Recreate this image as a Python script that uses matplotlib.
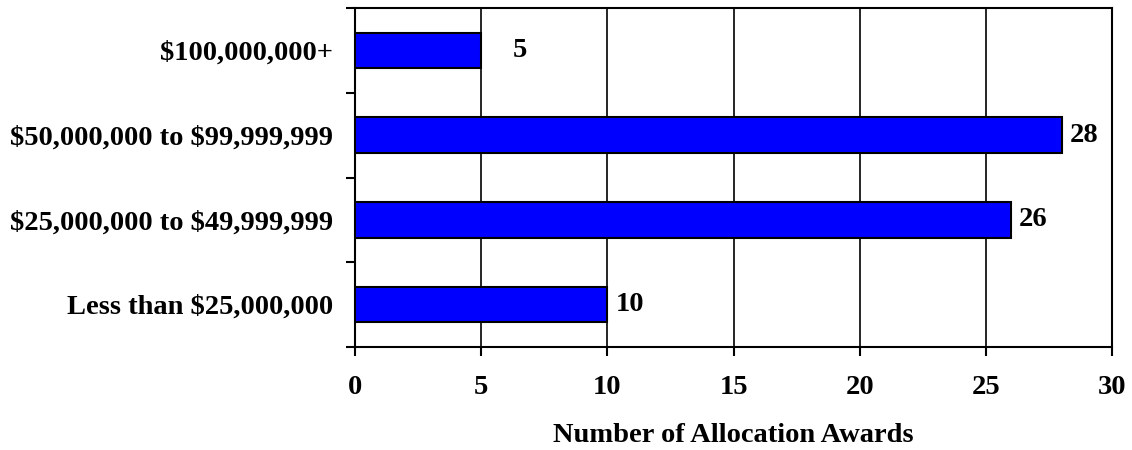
import matplotlib
matplotlib.use("Agg")
import matplotlib.pyplot as plt
from matplotlib.ticker import FixedLocator

categories = ["Less than $25,000,000", "$25,000,000 to $49,999,999",
              "$50,000,000 to $99,999,999", "$100,000,000+"]
values = [10, 26, 28, 5]
x_ticks = [0, 5, 10, 15, 20, 25, 30]
x_label = "Number of Allocation Awards"
label_gap_px = [8, 8, 8, 32]

plt.rcParams['text.parse_math'] = False
plt.rcParams['font.family'] = ['Liberation Serif', 'DejaVu Serif']
plt.rcParams['font.weight'] = 'bold'

fig = plt.figure(figsize=(11.32, 4.5), dpi=100)
ax = fig.add_axes([355/1132, 1 - 347/450, (1112-355)/1132, (347-8)/450])

ypos = list(range(len(categories)))
bars = ax.barh(ypos, values, height=0.42, color='#0000FF', edgecolor='black',
               linewidth=1.5, zorder=3)

ax.set_xlim(0, 30)
ax.set_ylim(-0.5, len(categories) - 0.5)
ax.set_xticks(x_ticks)
ax.set_xticklabels([str(t) for t in x_ticks], fontsize=20.5, fontweight='bold')
ax.set_yticks(ypos)
ax.set_yticklabels(categories, fontsize=20.5, fontweight='bold')
ax.yaxis.set_minor_locator(FixedLocator([i - 0.5 for i in range(len(categories) + 1)]))
ax.tick_params(axis='y', which='major', length=0, pad=15.5)
ax.tick_params(axis='y', which='minor', length=6.5, width=1.5, color='black')
ax.tick_params(axis='x', which='major', length=6.5, width=1.5, pad=14, direction='out')

ax.grid(axis='x', color='black', linewidth=1.2, zorder=1)
ax.set_axisbelow(True)
for s in ax.spines.values():
    s.set_linewidth(1.5)
    s.set_color('black')

for b, v, g in zip(bars, values, label_gap_px):
    ax.annotate(str(v), xy=(b.get_width(), b.get_y() + b.get_height() / 2),
                xytext=(g * 0.72, 0), textcoords='offset points',
                ha='left', va='center', fontsize=20.5, fontweight='bold', zorder=4)

ax.set_xlabel(x_label, fontsize=20.5, fontweight='bold', labelpad=16)

fig.savefig("out.png", dpi=100)
